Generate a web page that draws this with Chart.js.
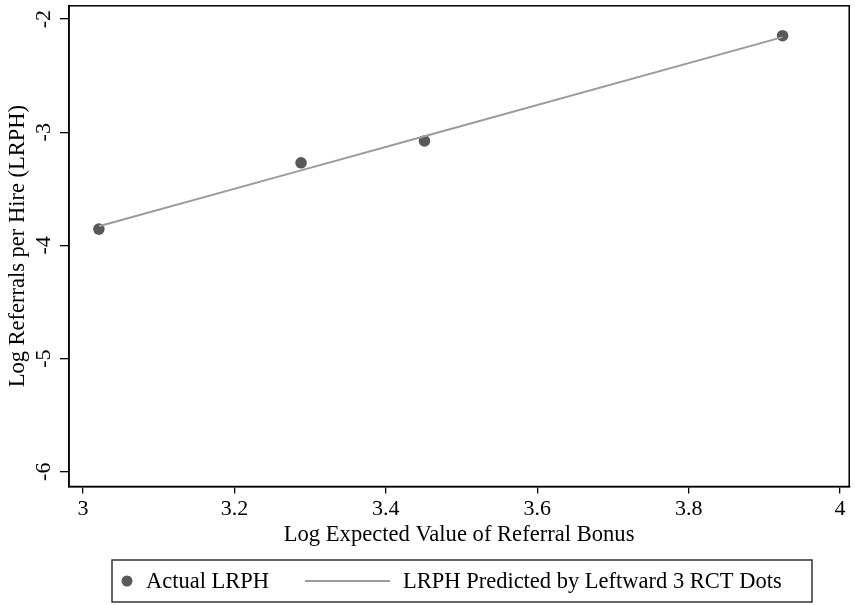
<!DOCTYPE html>
<html>
<head>
<meta charset="utf-8">
<script src="https://cdn.jsdelivr.net/npm/chart.js@4.4.1/dist/chart.umd.min.js"></script>
<style>
  html, body { margin: 0; padding: 0; background: #fff; }
  #wrap { width: 855px; height: 605px; }
</style>
</head>
<body>
<div id="wrap"><canvas id="lrphChart"></canvas></div>
<script>
// values
const bonusX = [3.021, 3.288, 3.451, 3.924];
const actualLRPH = [-3.856, -3.270, -3.077, -2.147];
const predictedLRPH = [-3.831, -3.337, -3.036, -2.160];
const xTicks = [3, 3.2, 3.4, 3.6, 3.8, 4];
const yTicks = [-6, -5, -4, -3, -2];
const xTickLabels = ["3", "3.2", "3.4", "3.6", "3.8", "4"];
const yTickLabels = ["-6", "-5", "-4", "-3", "-2"];

const serif = "'Liberation Serif', 'Times New Roman', serif";
const dotColor = "#595959";
const lineColor = "#9b9b9b";

// box around the plot area (Stata style frame)
const frame = {
  id: "frame",
  afterDatasetsDraw(chart) {
    const { ctx, chartArea: a } = chart;
    ctx.save();
    ctx.strokeStyle = "#000";
    ctx.lineWidth = 1.5;
    ctx.strokeRect(a.left, a.top, a.right - a.left, a.bottom - a.top);
    ctx.restore();
  },
};

// legend drawn in a bordered box under the axis title
const boxLegend = {
  id: "boxLegend",
  afterDraw(chart) {
    const ctx = chart.ctx;
    const ds = chart.data.datasets;
    const top = 560, bottom = 602, left = 112, right = 812;
    const midY = (top + bottom) / 2;
    ctx.save();
    ctx.strokeStyle = "#333";
    ctx.lineWidth = 1.5;
    ctx.strokeRect(left, top, right - left, bottom - top);

    // scatter marker
    ctx.fillStyle = ds[0].backgroundColor;
    ctx.beginPath();
    ctx.arc(127, midY, 5.5, 0, Math.PI * 2);
    ctx.fill();

    // line sample
    ctx.strokeStyle = ds[1].borderColor;
    ctx.lineWidth = 2;
    ctx.beginPath();
    ctx.moveTo(305, midY);
    ctx.lineTo(390, midY);
    ctx.stroke();

    ctx.fillStyle = "#000";
    ctx.font = "22.5px " + serif;
    ctx.textBaseline = "middle";
    ctx.textAlign = "left";
    ctx.fillText(ds[0].label, 146, midY + 1);
    ctx.fillText(ds[1].label, 403, midY + 1);
    ctx.restore();
  },
};

const ctx = document.getElementById("lrphChart").getContext("2d");

const lrphChart = new Chart(ctx, {
  type: "scatter",
  data: {
    datasets: [
      {
        label: "Actual LRPH",
        data: bonusX.map((x, i) => ({ x: x, y: actualLRPH[i] })),
        backgroundColor: dotColor,
        borderColor: dotColor,
        pointRadius: 5.8,
        pointHoverRadius: 5.8,
        borderWidth: 0,
        order: 2,
      },
      {
        label: "LRPH Predicted by Leftward 3 RCT Dots",
        data: bonusX.map((x, i) => ({ x: x, y: predictedLRPH[i] })),
        showLine: true,
        borderColor: lineColor,
        backgroundColor: lineColor,
        borderWidth: 2,
        pointRadius: 0,
        pointHoverRadius: 0,
        order: 1,
      },
    ],
  },
  options: {
    responsive: true,
    maintainAspectRatio: false,
    animation: false,
    layout: {
      padding: { left: 0, top: 2, right: 5, bottom: 55 },
    },
    scales: {
      x: {
        type: "linear",
        min: 2.9815,
        max: 4.012,
        afterBuildTicks: (s) => {
          s.ticks = xTicks.map((v) => ({ value: v }));
        },
        afterFit: (s) => {
          s.height = 63.5;
          s.paddingLeft = 0;
          s.paddingRight = 0;
        },
        ticks: {
          color: "#000",
          font: { family: serif, size: 22 },
          padding: 3,
          maxRotation: 0,
          minRotation: 0,
          callback: (v) => xTickLabels[xTicks.indexOf(v)],
        },
        grid: {
          display: true,
          drawOnChartArea: false,
          drawTicks: true,
          tickLength: 7,
          color: "#000",
          lineWidth: 1.3,
        },
        border: { display: true, color: "#000", width: 1.5 },
        title: {
          display: true,
          text: "Log Expected Value of Referral Bonus",
          color: "#000",
          font: { family: serif, size: 22.6 },
          padding: { top: 0, bottom: 1 },
        },
      },
      y: {
        type: "linear",
        min: -6.13,
        max: -1.883,
        afterBuildTicks: (s) => {
          s.ticks = yTicks.map((v) => ({ value: v }));
        },
        afterFit: (s) => {
          s.width = 69;
          s.paddingTop = 0;
          s.paddingBottom = 0;
        },
        ticks: {
          color: "#000",
          font: { family: serif, size: 22 },
          padding: 7,
          minRotation: 90,
          maxRotation: 90,
          crossAlign: "center",
          callback: (v) => yTickLabels[yTicks.indexOf(v)],
        },
        grid: {
          display: true,
          drawOnChartArea: false,
          drawTicks: true,
          tickLength: 9,
          color: "#000",
          lineWidth: 1.3,
        },
        border: { display: true, color: "#000", width: 1.5 },
        title: {
          display: true,
          text: "Log Referrals per Hire (LRPH)",
          color: "#000",
          font: { family: serif, size: 22.5 },
          padding: { top: 5, bottom: 0 },
        },
      },
    },
    plugins: {
      legend: { display: false },
      tooltip: { enabled: false },
    },
  },
  plugins: [frame, boxLegend],
});
</script>
</body>
</html>
